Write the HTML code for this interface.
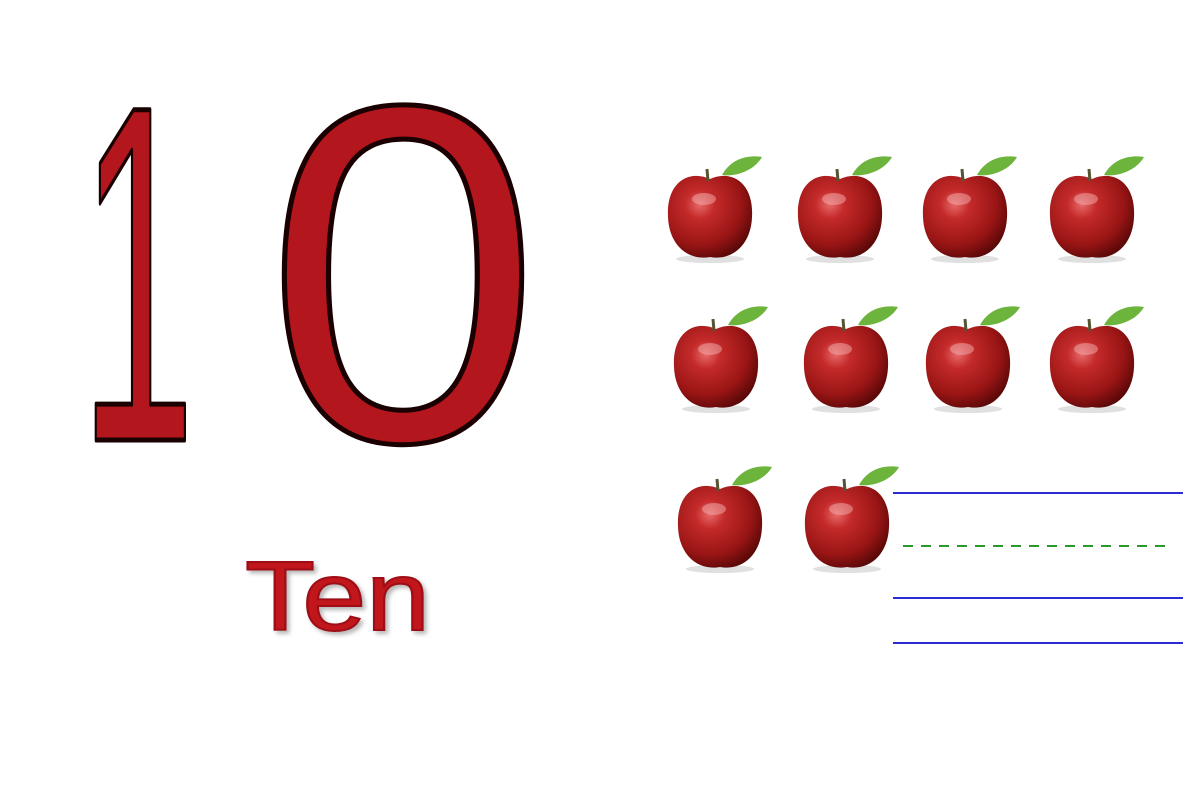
<!DOCTYPE html>
<html><head><meta charset="utf-8"><style>
html,body{margin:0;padding:0;background:#fff;}
svg{display:block;}
</style></head><body>
<svg width="1200" height="800" viewBox="0 0 1200 800">
<defs>
<radialGradient id="ag" cx="0.38" cy="0.35" r="0.7">
<stop offset="0" stop-color="#e86a6a"/><stop offset="0.25" stop-color="#c42a2a"/><stop offset="0.7" stop-color="#9a1515"/><stop offset="1" stop-color="#5a0808"/>
</radialGradient>
<filter id="sh"><feDropShadow dx="3" dy="3" stdDeviation="2" flood-color="#999" flood-opacity="0.7"/></filter>
</defs>
<rect width="1200" height="800" fill="#fff"/>
<text x="80" y="440" font-family="Liberation Sans, sans-serif" font-size="480" fill="#b3161c" stroke="#1a0000" stroke-width="5" stroke-linejoin="round" textLength="115" lengthAdjust="spacingAndGlyphs">1</text>
<text x="265" y="440" font-family="Liberation Sans, sans-serif" font-size="480" fill="#b3161c" stroke="#1a0000" stroke-width="5" textLength="276" lengthAdjust="spacingAndGlyphs">0</text>
<text x="245" y="630" font-family="Liberation Sans, sans-serif" font-size="98" fill="#c0181e" stroke="#a01015" stroke-width="2" filter="url(#sh)" textLength="185" lengthAdjust="spacingAndGlyphs">Ten</text>
<g id="apples"></g>
<g>
<line x1="893" y1="493" x2="1183" y2="493" stroke="#2a2ad8" stroke-width="2"/>
<line x1="903" y1="546" x2="1165" y2="546" stroke="#2a9a2a" stroke-width="2" stroke-dasharray="10,8"/>
<line x1="893" y1="598" x2="1183" y2="598" stroke="#2a2ad8" stroke-width="2"/>
<line x1="893" y1="643" x2="1183" y2="643" stroke="#2a2ad8" stroke-width="2"/>
</g>
</svg>
<script>
const appleX=[710,840,965,1092,716,846,968,1092,720,847];
const appleY=[215,215,215,215,365,365,365,365,525,525];
const ns="http://www.w3.org/2000/svg";
const g=document.getElementById('apples');
function mk(t,a){const e=document.createElementNS(ns,t);for(const k in a)e.setAttribute(k,a[k]);return e;}
appleX.forEach((x,i)=>{
 const y=appleY[i];
 const a=mk('g',{});
 
 
 a.appendChild(mk('ellipse',{cx:x,cy:y+44,rx:34,ry:4,fill:'#ccc',opacity:0.6}));
 a.appendChild(mk('path',{d:`M${x} ${y-36} C${x+22} ${y-46} ${x+44} ${y-32} ${x+42} ${y+2} C${x+41} ${y+30} ${x+22} ${y+46} ${x} ${y+42} C${x-22} ${y+46} ${x-41} ${y+30} ${x-42} ${y+2} C${x-44} ${y-32} ${x-22} ${y-46} ${x} ${y-36} Z`,fill:'url(#ag)'}));
 a.appendChild(mk('line',{x1:x-2,y1:y-34,x2:x-3,y2:y-46,stroke:'#553',"stroke-width":3}));
 a.appendChild(mk('path',{d:`M${x+12} ${y-40} C${x+22} ${y-58} ${x+40} ${y-60} ${x+52} ${y-58} C${x+44} ${y-44} ${x+25} ${y-38} ${x+12} ${y-40} Z`,fill:'#6cb43c'}));
 a.appendChild(mk('ellipse',{cx:x-6,cy:y-16,rx:12,ry:6,fill:'#f3b0b0',opacity:0.5}));
 g.appendChild(a);
});
</script>
</body></html>
